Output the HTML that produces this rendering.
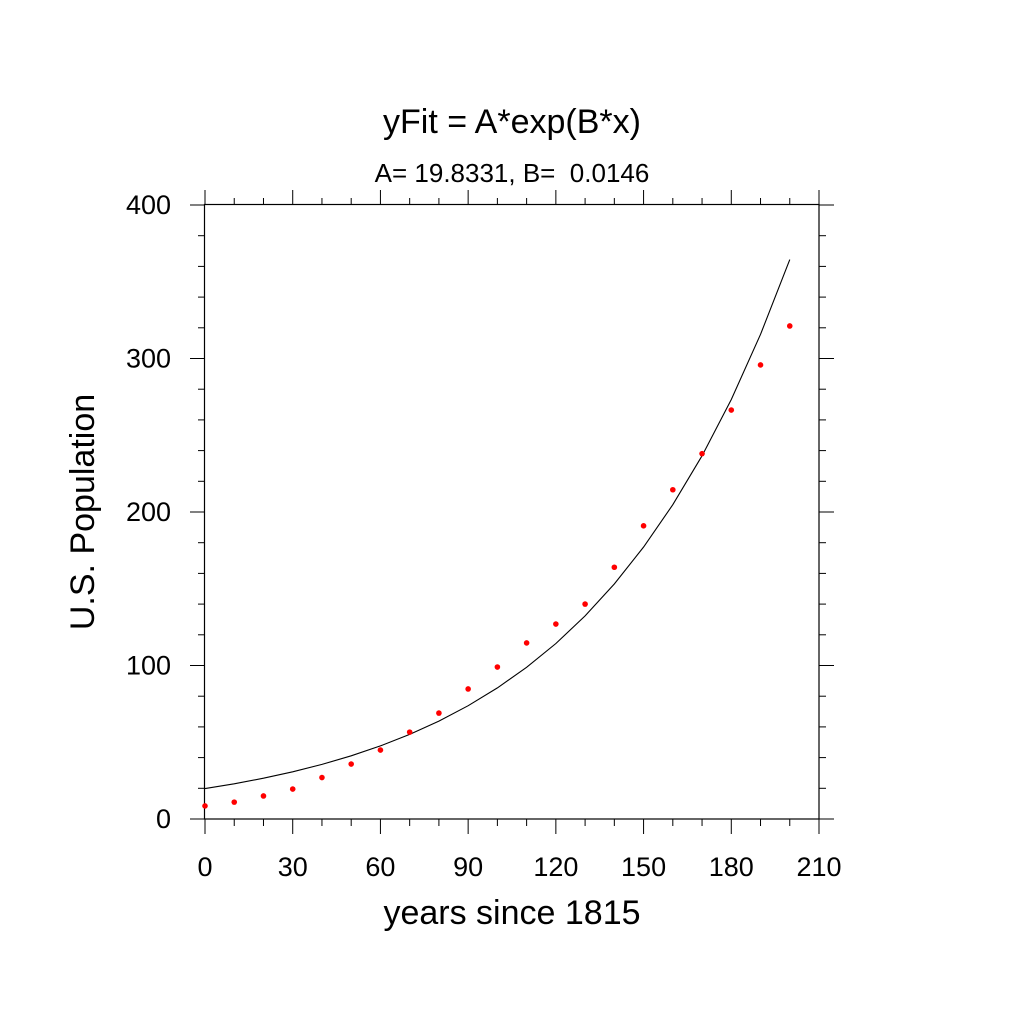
<!DOCTYPE html>
<html><head><meta charset="utf-8"><style>body{margin:0;background:#fff}svg{display:block}</style></head>
<body>
<svg id="s" width="1024" height="1024" xmlns="http://www.w3.org/2000/svg" font-family="Liberation Sans, sans-serif">
<rect x="204.5" y="204.5" width="614.5" height="614.5" fill="none" stroke="#000" stroke-width="1.2"/>
<g id="t" stroke="#000" stroke-width="1"></g>
<polyline fill="none" stroke="#000" stroke-width="1.1" points="205,788.6 234.2,783.8 263.5,778.2 292.7,771.8 322,764.4 351.2,755.8 380.4,745.9 409.7,734.4 438.9,721.1 468.2,705.7 497.4,687.9 526.6,667.3 555.9,643.5 585.1,615.9 614.4,583.9 643.6,547 672.8,504.7 702.1,455.7 731.3,399.5 760.6,334.2 789.8,259.6"/>
<g id="p" fill="#f00"></g>
<g id="l" font-size="27" fill="#000"></g>
<text x="512" y="133" font-size="34" text-anchor="middle">yFit = A*exp(B*x)</text>
<text x="512" y="182" font-size="26" text-anchor="middle" style="white-space:pre" xml:space="preserve">A= 19.8331, B=  0.0146</text>
<text x="512" y="924" font-size="34" text-anchor="middle">years since 1815</text>
<text transform="translate(94,512) rotate(-90)" font-size="34" text-anchor="middle">U.S. Population</text>
</svg>
<script>
var ns="http://www.w3.org/2000/svg";
function el(p,n,a,txt){var e=document.createElementNS(ns,n);for(var k in a)e.setAttribute(k,a[k]);if(txt!=null)e.textContent=txt;document.getElementById(p).appendChild(e);}
var X=function(v){return 205+v*614/210},Y=function(v){return 819-v*614/400};
for(var v=0;v<=210;v+=10){var x=X(v),L=(v%30==0)?15:7;
el('t','line',{x1:x,y1:819,x2:x,y2:819+L});el('t','line',{x1:x,y1:205,x2:x,y2:205-L});
if(v%30==0)el('l','text',{x:x,y:876,'text-anchor':'middle'},v);}
for(var v=0;v<=400;v+=20){var y=Y(v),L=(v%100==0)?15:7;
el('t','line',{x1:205,y1:y,x2:205-L,y2:y});el('t','line',{x1:819,y1:y,x2:819+L,y2:y});
if(v%100==0)el('l','text',{x:171,y:y+9,'text-anchor':'end'},v);}
var d=[8.5,11,15,19.5,27,35.8,44.9,56.6,69,84.7,99,114.7,127,140,164,191,214.5,238,266.4,295.8,321.2];
d.forEach(function(v,i){el('p','circle',{cx:X(i*10),cy:Y(v),r:2.8});});
</script>
</body></html>
